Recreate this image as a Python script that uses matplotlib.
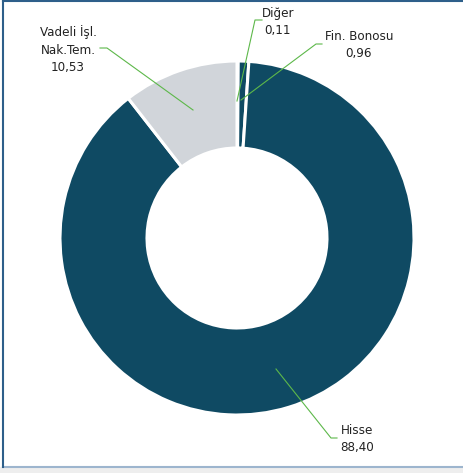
import matplotlib
matplotlib.use('Agg')
import matplotlib.pyplot as plt
from matplotlib.patches import Rectangle
from matplotlib import font_manager

# Data (clockwise from 12 o'clock)
labels = ['Diğer', 'Fin. Bonosu', 'Hisse', 'Vadeli İşl.\nNak.Tem.']
values = [0.11, 0.96, 88.40, 10.53]
value_text = ['0,11', '0,96', '88,40', '10,53']
colors = ['#0F4A63', '#0F4A63', '#0F4A63', '#D1D5DA']

condensed = [f for f in font_manager.fontManager.ttflist
             if 'DejaVu Sans' in f.name and f.stretch == 'condensed']
print([(f.name, f.fname) for f in condensed][:5])
font_path = None
for f in condensed:
    if f.style == 'normal' and f.weight in (400, 'normal'):
        font_path = f.fname
        break
fprop = font_manager.FontProperties(fname=font_path, size=9.5) if font_path else \
    font_manager.FontProperties(family='DejaVu Sans', size=9)

W, H = 464, 473
fig = plt.figure(figsize=(W / 100, H / 100), dpi=100)
ax = fig.add_axes([0, 0, 1, 1])

# background and frame
ax.add_patch(Rectangle((0, 0), W, 6, color='#EEEEEE', zorder=0))
ax.plot([3, W], [6, 6], color='#9DB5CE', lw=1.5)
ax.plot([3, 3], [6, H], color='#2E5F8A', lw=1.5)
ax.plot([3, W], [H - 0.5, H - 0.5], color='#2E5F8A', lw=1.5)

cx, cy, r, r_in = 237, H - 238, 177, 90
ax.pie(values, colors=colors, startangle=90, counterclock=False,
       center=(cx, cy), radius=r,
       wedgeprops=dict(width=r - r_in, edgecolor='white', linewidth=2.2),
       frame=True)
ax.set_xlim(0, W)
ax.set_ylim(0, H)
ax.set_aspect('equal')
ax.axis('off')

green = '#5DB84A'


def leader(points, text_xy, text):
    xs = [p[0] for p in points]
    ys = [H - p[1] for p in points]
    ax.plot(xs, ys, color=green, lw=0.8)
    ax.text(text_xy[0], H - text_xy[1], text, ha='center', va='center',
            fontproperties=fprop, color='#222222', linespacing=1.45)


leader([(237, 101), (255, 20), (262, 20)], (278, 22), labels[0] + '\n' + value_text[0])
leader([(241, 100), (316, 44), (322, 44)], (359, 45), labels[1] + '\n' + value_text[1])
leader([(276, 369), (331, 438), (337, 438)], (357, 439), labels[2] + '\n' + value_text[2])
leader([(193, 110), (107, 48), (100, 48)], (68, 50), labels[3] + '\n' + value_text[3])

fig.savefig('out.png', dpi=100)
